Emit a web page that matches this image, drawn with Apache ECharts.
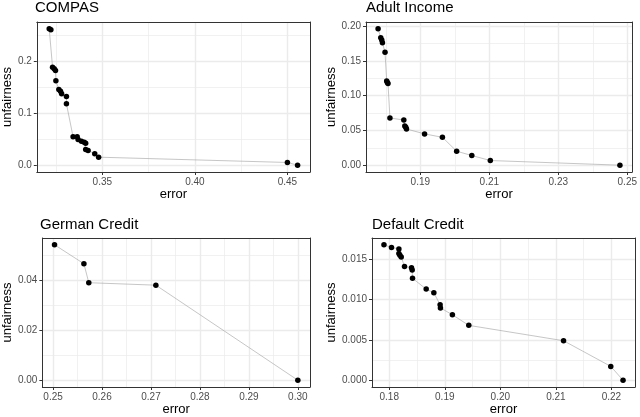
<!DOCTYPE html>
<html><head><meta charset="utf-8">
<script src="https://cdn.jsdelivr.net/npm/echarts@6/dist/echarts.min.js"></script>
<style>html,body{margin:0;padding:0;background:#fff}#c{width:640px;height:417px}</style>
</head><body><div id="c"></div>
<script>
// ---------- DATA ----------
const panelTitles = ["COMPAS", "Adult Income", "German Credit", "Default Credit"];

const compasError  = [0.3213,0.3222,0.3231,0.3240,0.3247,0.3249,0.3265,0.3274,0.3280,0.3306,0.3306,0.3342,0.3364,0.3369,0.3387,0.3402,0.3410,0.3410,0.3423,0.3459,0.3480,0.4500,0.4555];
const compasUnfair = [0.2623,0.2604,0.1885,0.1854,0.1821,0.1623,0.1456,0.1423,0.1373,0.1321,0.1181,0.0546,0.0546,0.0494,0.0462,0.0442,0.0423,0.0302,0.0283,0.0219,0.0154,0.0052,0.0000];

const adultError  = [0.17775,0.17852,0.17881,0.17901,0.17976,0.18024,0.18044,0.18062,0.18119,0.18521,0.18549,0.18578,0.18598,0.19123,0.19640,0.20053,0.20492,0.21029,0.24787];
const adultUnfair = [0.1962,0.1833,0.1800,0.1761,0.1624,0.1213,0.1189,0.1174,0.0679,0.0650,0.0564,0.0544,0.0521,0.0450,0.0401,0.0201,0.0139,0.0067,0.0000];

const germanError  = [0.2503,0.2563,0.2573,0.2710,0.3000];
const germanUnfair = [0.0543,0.0467,0.0391,0.0381,0.0000];

const defaultError  = [0.17905,0.18041,0.18174,0.18174,0.18192,0.18216,0.18275,0.18401,0.18413,0.18419,0.18665,0.18803,0.18916,0.18922,0.19137,0.19432,0.21138,0.21988,0.22209];
const defaultUnfair = [0.01674,0.01641,0.01622,0.01565,0.01544,0.01524,0.01406,0.01390,0.01361,0.01260,0.01126,0.01080,0.00934,0.00894,0.00809,0.00678,0.00488,0.00171,0.00000];

// tick values and labels
const compasXTicks = [0.35, 0.40, 0.45];
const compasXLabels = ["0.35", "0.40", "0.45"];
const compasXMinor = [0.325, 0.375, 0.425];
const compasYTicks = [0.0, 0.1, 0.2];
const compasYLabels = ["0.0", "0.1", "0.2"];
const compasYMinor = [0.05, 0.15, 0.25];

const adultXTicks = [0.19, 0.21, 0.23, 0.25];
const adultXLabels = ["0.19", "0.21", "0.23", "0.25"];
const adultXMinor = [0.18, 0.20, 0.22, 0.24];
const adultYTicks = [0.00, 0.05, 0.10, 0.15, 0.20];
const adultYLabels = ["0.00", "0.05", "0.10", "0.15", "0.20"];
const adultYMinor = [0.025, 0.075, 0.125, 0.175];

const germanXTicks = [0.25, 0.26, 0.27, 0.28, 0.29, 0.30];
const germanXLabels = ["0.25", "0.26", "0.27", "0.28", "0.29", "0.30"];
const germanXMinor = [0.255, 0.265, 0.275, 0.285, 0.295];
const germanYTicks = [0.00, 0.02, 0.04];
const germanYLabels = ["0.00", "0.02", "0.04"];
const germanYMinor = [0.01, 0.03, 0.05];

const defaultXTicks = [0.18, 0.19, 0.20, 0.21, 0.22];
const defaultXLabels = ["0.18", "0.19", "0.20", "0.21", "0.22"];
const defaultXMinor = [0.185, 0.195, 0.205, 0.215];
const defaultYTicks = [0.000, 0.005, 0.010, 0.015];
const defaultYLabels = ["0.000", "0.005", "0.010", "0.015"];
const defaultYMinor = [0.0025, 0.0075, 0.0125, 0.0175];

const xTitle = "error";
const yTitle = "unfairness";

// ---------- LAYOUT / STYLE ----------
const FONT = "Liberation Sans";
const grids = [
  {left: 35, top: 22, width: 275, height: 150},
  {left: 366, top: 22, width: 269, height: 150},
  {left: 40, top: 238, width: 270, height: 150},
  {left: 372, top: 238, width: 263, height: 150}
];
const titleTops = [0.5, 0.5, 217, 217];
const yNameGaps = [21, 27, 26, 33];

const panels = [
  {x: compasError, y: compasUnfair, xt: compasXTicks, xl: compasXLabels, xm: compasXMinor, yt: compasYTicks, yl: compasYLabels, ym: compasYMinor},
  {x: adultError, y: adultUnfair, xt: adultXTicks, xl: adultXLabels, xm: adultXMinor, yt: adultYTicks, yl: adultYLabels, ym: adultYMinor},
  {x: germanError, y: germanUnfair, xt: germanXTicks, xl: germanXLabels, xm: germanXMinor, yt: germanYTicks, yl: germanYLabels, ym: germanYMinor},
  {x: defaultError, y: defaultUnfair, xt: defaultXTicks, xl: defaultXLabels, xm: defaultXMinor, yt: defaultYTicks, yl: defaultYLabels, ym: defaultYMinor}
];

function expandRange(arr) {
  const mn = Math.min.apply(null, arr), mx = Math.max.apply(null, arr);
  const d = (mx - mn) * 0.05;
  return [mn - d, mx + d];
}
function labelFmt(ticks, labels) {
  return function (v) {
    for (let i = 0; i < ticks.length; i++) if (Math.abs(ticks[i] - v) < 1e-9) return labels[i];
    return "";
  };
}

const BORDER = '#333333', GRID = '#EBEBEB', TICKTXT = '#4D4D4D';
const title = [], xAxis = [], yAxis = [], series = [];

panels.forEach(function (p, i) {
  const xr = expandRange(p.x), yr = expandRange(p.y);
  title.push({
    text: panelTitles[i], left: grids[i].left, top: titleTops[i], padding: 0,
    textStyle: {fontSize: 15, fontWeight: 'normal', color: '#000', fontFamily: FONT}
  });
  // major x
  xAxis.push({
    gridIndex: i, type: 'value', position: 'bottom', min: xr[0], max: xr[1],
    name: xTitle, nameLocation: 'middle', nameGap: 16,
    nameTextStyle: {fontSize: 13, color: '#000', fontFamily: FONT},
    axisLine: {show: true, onZero: false, lineStyle: {color: BORDER, width: 1}},
    axisTick: {show: true, inside: false, length: 3, customValues: p.xt, lineStyle: {color: BORDER, width: 1}},
    axisLabel: {show: true, customValues: p.xt, formatter: labelFmt(p.xt, p.xl), fontSize: 10, color: TICKTXT, margin: 5, fontFamily: FONT},
    splitLine: {show: true, lineStyle: {color: GRID, width: 1.4}}
  });
  // minor x
  xAxis.push({
    gridIndex: i, type: 'value', position: 'top', min: xr[0], max: xr[1],
    axisLine: {show: true, onZero: false, lineStyle: {color: BORDER, width: 1}},
    axisTick: {show: false, customValues: p.xm},
    axisLabel: {show: false, customValues: p.xm},
    splitLine: {show: true, lineStyle: {color: GRID, width: 0.7}}
  });
  // major y
  yAxis.push({
    gridIndex: i, type: 'value', position: 'left', min: yr[0], max: yr[1],
    name: yTitle, nameLocation: 'middle', nameGap: yNameGaps[i], nameRotate: 90,
    nameTextStyle: {fontSize: 13, color: '#000', fontFamily: FONT},
    axisLine: {show: true, onZero: false, lineStyle: {color: BORDER, width: 1}},
    axisTick: {show: true, inside: false, length: 3, customValues: p.yt, lineStyle: {color: BORDER, width: 1}},
    axisLabel: {show: true, customValues: p.yt, formatter: labelFmt(p.yt, p.yl), fontSize: 10, color: TICKTXT, margin: 5, fontFamily: FONT},
    splitLine: {show: true, lineStyle: {color: GRID, width: 1.4}}
  });
  // minor y
  yAxis.push({
    gridIndex: i, type: 'value', position: 'right', min: yr[0], max: yr[1],
    axisLine: {show: true, onZero: false, lineStyle: {color: BORDER, width: 1}},
    axisTick: {show: false, customValues: p.ym},
    axisLabel: {show: false, customValues: p.ym},
    splitLine: {show: true, lineStyle: {color: GRID, width: 0.7}}
  });
  series.push({
    type: 'line', xAxisIndex: 2 * i, yAxisIndex: 2 * i,
    data: p.x.map(function (v, k) { return [v, p.y[k]]; }),
    symbol: 'circle', symbolSize: 5.5, showSymbol: true,
    itemStyle: {color: '#000'},
    lineStyle: {color: '#A0A0A0', width: 0.6},
    emphasis: {disabled: true}, z: 10
  });
});

const chart = echarts.init(document.getElementById('c'), null, {renderer: 'canvas'});
chart.setOption({
  animation: false,
  backgroundColor: '#fff',
  title: title,
  grid: grids.map(function (g) { return Object.assign({containLabel: false}, g); }),
  xAxis: xAxis,
  yAxis: yAxis,
  series: series
});
</script>
</body></html>
